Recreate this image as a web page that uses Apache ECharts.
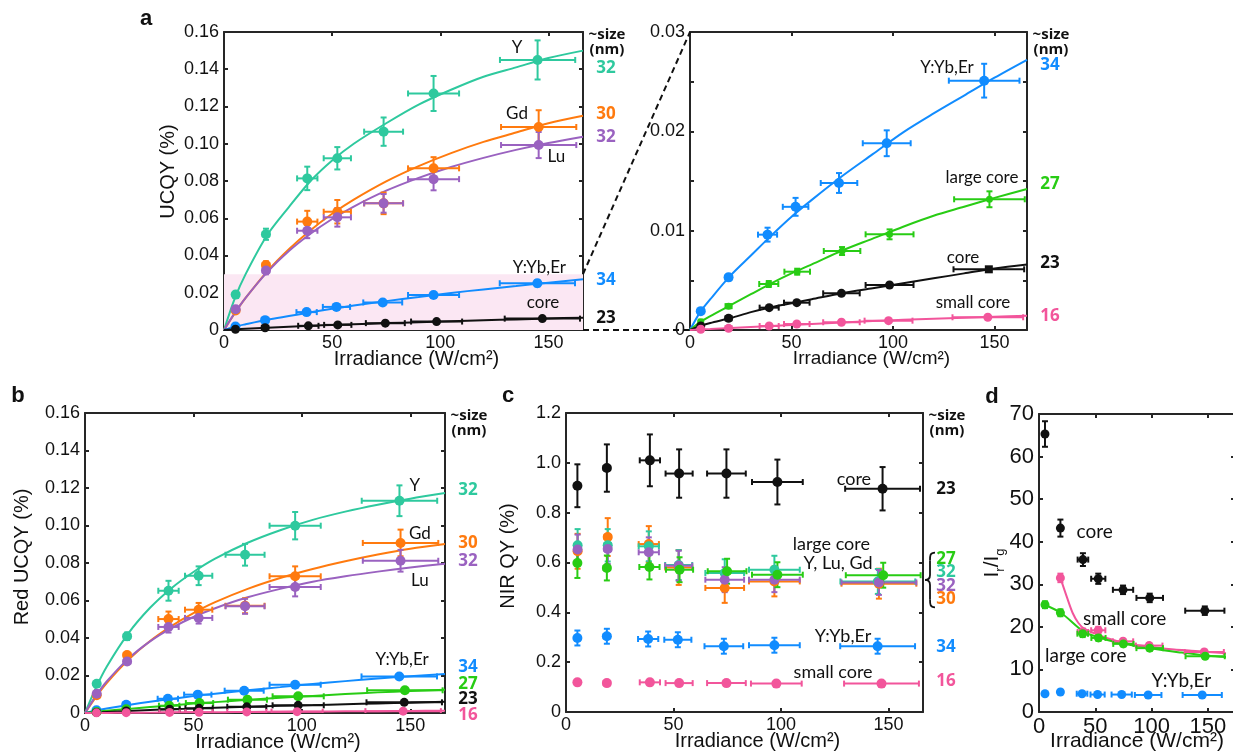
<!DOCTYPE html>
<html>
<head>
<meta charset="utf-8">
<title>UCQY vs irradiance</title>
<script src="https://cdn.jsdelivr.net/npm/echarts@6.0.0/dist/echarts.min.js"></script>
<style>
html,body{margin:0;padding:0;background:#fff;}
#chart{width:1233px;height:755px;}
</style>
</head>
<body>
<div id="chart"></div>
<script>
// ================= DATA =================
// irradiance (W/cm^2) of each measurement, per sample, and its +/- spread
const irrY     = [5.4, 19.4, 38.5, 52.4, 73.8, 96.9, 145.0];
const irrGd    = [5.4, 19.4, 38.5, 52.4, 73.8, 96.9, 145.5];
const irrLu    = [5.4, 19.4, 38.5, 52.4, 73.8, 96.9, 145.5];
const irrYbEr  = [5.3, 19.0, 38.2, 52.0, 73.4, 96.9, 144.9];
const irrLarge = [5.3, 19.0, 38.8, 52.8, 74.9, 98.3, 147.5];
const irrCore  = [5.3, 19.0, 39.0, 52.6, 74.6, 98.3, 147.2];
const irrSmall = [5.3, 19.0, 39.0, 52.6, 74.6, 97.8, 146.7];
const irrErr   = [1.0, 1.5, 4.7, 6.3, 9.0, 11.8, 17.4];

// irradiances at which the fitted curves were read
const fitX = [0, 5, 10, 20, 30, 40, 50, 60, 75, 90, 105, 120, 135, 150, 166];

// ---- a: UCQY (%) ----
const ucqyY        = [0.0190, 0.0514, 0.0814, 0.0922, 0.1065, 0.1270, 0.1450];
const ucqyYErr     = [0.0015, 0.0030, 0.0063, 0.0060, 0.0076, 0.0094, 0.0105];
const ucqyGd       = [0.0105, 0.0349, 0.0582, 0.0635, 0.0680, 0.0868, 0.1090];
const ucqyGdErr    = [0.0010, 0.0020, 0.0058, 0.0063, 0.0058, 0.0060, 0.0090];
const ucqyLu       = [0.0111, 0.0319, 0.0533, 0.0605, 0.0680, 0.0810, 0.0993];
const ucqyLuErr    = [0.0010, 0.0020, 0.0040, 0.0050, 0.0050, 0.0060, 0.0070];
const ucqyYbEr     = [0.0019, 0.0053, 0.0096, 0.0124, 0.0148, 0.0188, 0.0251];
const ucqyYbErErr  = [0.0002, 0.0003, 0.0007, 0.0009, 0.0010, 0.0013, 0.0017];
const ucqyLarge    = [0.00084, 0.0024, 0.00463, 0.00587, 0.00795, 0.00963, 0.01316];
const ucqyLargeErr = [0.0001, 0.0002, 0.0003, 0.0003, 0.0004, 0.0005, 0.0008];
const ucqyCore     = [0.0004, 0.00118, 0.00225, 0.00275, 0.00369, 0.00453, 0.00611];
const ucqyCoreErr  = [0.00005, 0.0001, 0.0001, 0.0001, 0.0001, 0.0002, 0.0002];
const ucqySmall    = [0.00007, 0.00017, 0.0004, 0.0006, 0.00078, 0.00094, 0.00128];
const ucqySmallErr = [0.00002, 0.00003, 0.00004, 0.00005, 0.00005, 0.00006, 0.00008];

const fitUcqyY     = [0, 0.017, 0.030, 0.051, 0.066, 0.080, 0.091, 0.100, 0.111, 0.121, 0.129, 0.136, 0.141, 0.146, 0.150];
const fitUcqyGd    = [0, 0.009, 0.0172, 0.0315, 0.0434, 0.0536, 0.0624, 0.070, 0.0798, 0.088, 0.095, 0.101, 0.106, 0.111, 0.115];
const fitUcqyLu    = [0, 0.0092, 0.0173, 0.0311, 0.0424, 0.0517, 0.0596, 0.0663, 0.0748, 0.0817, 0.0875, 0.0924, 0.0967, 0.1004, 0.1038];
const fitUcqyYbEr  = [0, 0.0018, 0.0031, 0.0055, 0.0075, 0.0095, 0.0114, 0.0131, 0.0155, 0.0177, 0.0199, 0.0218, 0.0236, 0.0254, 0.0272];
const fitUcqyLarge = [0, 0.0008, 0.0014, 0.0025, 0.0036, 0.0047, 0.0057, 0.0066, 0.0080, 0.0092, 0.0104, 0.0115, 0.0124, 0.0133, 0.0142];
const fitUcqyCore  = [0, 0.0004, 0.0007, 0.0012, 0.0018, 0.0023, 0.0027, 0.0031, 0.0037, 0.0042, 0.0047, 0.0052, 0.0057, 0.0062, 0.0066];
const fitUcqySmall = [0, 0.00006, 0.0001, 0.0002, 0.0003, 0.0004, 0.0005, 0.0006, 0.00075, 0.0009, 0.00102, 0.00113, 0.00123, 0.00133, 0.00144];

// ---- b: Red UCQY (%) ----
const redY        = [0.0156, 0.0409, 0.0652, 0.0732, 0.0844, 0.0999, 0.1132];
const redYErr     = [0.0012, 0.0020, 0.0053, 0.0050, 0.0058, 0.0073, 0.0082];
const redGd       = [0.0095, 0.0309, 0.0501, 0.0551, 0.0572, 0.0729, 0.0907];
const redGdErr    = [0.0010, 0.0015, 0.0040, 0.0036, 0.0040, 0.0053, 0.0071];
const redLu       = [0.0103, 0.0275, 0.0459, 0.0507, 0.0569, 0.0672, 0.0812];
const redLuErr    = [0.0010, 0.0015, 0.0030, 0.0030, 0.0040, 0.0050, 0.0058];
const redYbEr     = [0.0015, 0.0044, 0.0076, 0.0098, 0.0119, 0.0151, 0.0195];
const redYbErErr  = [0.0002, 0.0003, 0.0005, 0.0006, 0.0007, 0.0009, 0.0012];
const redLarge    = [0.0005, 0.0020, 0.0039, 0.0053, 0.0071, 0.0089, 0.0121];
const redLargeErr = [0.0001, 0.0002, 0.0003, 0.0003, 0.0004, 0.0005, 0.0007];
const redCore     = [0.0003, 0.0011, 0.0020, 0.0025, 0.0033, 0.0041, 0.0057];
const redCoreErr  = [0.00005, 0.0001, 0.0001, 0.0001, 0.0002, 0.0002, 0.0003];
const redSmall    = [0.0001, 0.0002, 0.0003, 0.0004, 0.0006, 0.0007, 0.0010];
const redSmallErr = [0.00002, 0.00003, 0.00004, 0.00005, 0.00005, 0.00006, 0.00008];

const fitRedY     = [0, 0.0134, 0.0247, 0.0425, 0.0561, 0.0667, 0.0752, 0.0823, 0.0908, 0.0975, 0.1030, 0.1074, 0.1111, 0.1143, 0.1173];
const fitRedGd    = [0, 0.0085, 0.0160, 0.0284, 0.0384, 0.0465, 0.0533, 0.0591, 0.0662, 0.0720, 0.0768, 0.0809, 0.0845, 0.0876, 0.0901];
const fitRedLu    = [0, 0.0091, 0.0168, 0.0290, 0.0382, 0.0454, 0.0512, 0.0559, 0.0617, 0.0662, 0.0700, 0.0729, 0.0754, 0.0776, 0.0796];
const fitRedYbEr  = [0, 0.0013, 0.0024, 0.0043, 0.0060, 0.0075, 0.0090, 0.0103, 0.0121, 0.0138, 0.0155, 0.0170, 0.0184, 0.0196, 0.0208];
const fitRedLarge = [0, 0.0006, 0.0012, 0.0022, 0.0032, 0.0040, 0.0050, 0.0058, 0.0070, 0.0081, 0.0091, 0.0101, 0.0110, 0.0117, 0.0124];
const fitRedCore  = [0, 0.0002, 0.0005, 0.0011, 0.0016, 0.0020, 0.0024, 0.0028, 0.0033, 0.0038, 0.0042, 0.0047, 0.0051, 0.0055, 0.0060];
const fitRedSmall = [0, 0.00003, 0.00006, 0.0001, 0.0002, 0.0003, 0.0004, 0.0004, 0.0006, 0.0007, 0.0008, 0.0009, 0.0010, 0.0011, 0.0012];

// ---- c: NIR QY (%) ----
const nirCore     = [0.908, 0.979, 1.010, 0.957, 0.957, 0.923, 0.896];
const nirCoreErr  = [0.086, 0.095, 0.104, 0.097, 0.097, 0.090, 0.087];
const nirY        = [0.669, 0.669, 0.665, 0.590, 0.558, 0.571, 0.524];
const nirYErr     = [0.065, 0.065, 0.060, 0.060, 0.055, 0.056, 0.050];
const nirGd       = [0.645, 0.702, 0.674, 0.580, 0.498, 0.524, 0.515];
const nirGdErr    = [0.070, 0.076, 0.072, 0.070, 0.060, 0.060, 0.060];
const nirLu       = [0.652, 0.654, 0.641, 0.587, 0.531, 0.531, 0.520];
const nirLuErr    = [0.060, 0.060, 0.060, 0.060, 0.050, 0.050, 0.050];
const nirLarge    = [0.598, 0.578, 0.582, 0.571, 0.565, 0.551, 0.549];
const nirLargeErr = [0.060, 0.050, 0.050, 0.050, 0.050, 0.050, 0.050];
const nirYbEr     = [0.297, 0.304, 0.293, 0.290, 0.264, 0.268, 0.264];
const nirYbErErr  = [0.030, 0.030, 0.030, 0.030, 0.030, 0.030, 0.030];
const nirSmall    = [0.119, 0.116, 0.119, 0.116, 0.116, 0.114, 0.114];
const nirSmallErr = [0.005, 0.005, 0.005, 0.005, 0.005, 0.005, 0.005];

// ---- d: I_r / I_g ----
const ratioCore     = [65.3, 43.2, 35.8, 31.3, 28.7, 26.8, 23.8];
const ratioCoreErr  = [3.0, 2.0, 1.5, 1.2, 1.0, 1.0, 1.0];
const ratioSmall    = [null, 31.5, 18.8, 19.2, 16.6, 15.6, 14.1];
const ratioSmallErr = [0, 1.0, 0.8, 0.8, 0.6, 0.6, 0.5];
const ratioLarge    = [25.2, 23.3, 18.4, 17.4, 16.0, 15.0, 13.1];
const ratioLargeErr = [0.8, 0.8, 0.8, 0.7, 0.6, 0.6, 0.5];
const ratioYbEr     = [4.3, 4.7, 4.3, 4.1, 4.1, 4.0, 4.0];
const ratioYbErErr  = [0.3, 0.3, 0.3, 0.3, 0.3, 0.3, 0.3];
const fitRatioSmallX = [19, 25, 30, 35, 40, 50, 60, 75, 90, 105, 120, 135, 150, 166];
const fitRatioSmall  = [31.5, 26.8, 23.2, 20.9, 19.6, 18.4, 17.4, 16.3, 15.6, 15.1, 14.7, 14.4, 14.1, 13.8];
const fitRatioLargeX = [5, 20, 40, 55, 75, 100, 125, 150, 166];
const fitRatioLarge  = [25.2, 23.2, 18.8, 17.4, 16.0, 14.9, 14.0, 13.2, 12.9];

// tick labels
const xTickLabels = ['0', '50', '100', '150'];

// ================= STYLE / LAYOUT =================
const C = {Y:'#2ec99e', Gd:'#ff7a0e', Lu:'#9a62c0', YbEr:'#118cff', large:'#28cc14', core:'#111111', small:'#f2559b'};
const BAND = '#fbe7f3';
const AX = '#262626';
const FONT = '"Liberation Sans", Arial, sans-serif';
const NOTE_FONT = 'Lato, "Open Sans", sans-serif';
const SIZE_FONT = '"Open Sans", sans-serif';
const XMAX = [166, 166, 166, 166, 174];

const grids = [
  {left:224, top:32,  width:359, height:298},
  {left:690, top:32,  width:337, height:298},
  {left:85,  top:413, width:360, height:300},
  {left:566, top:413, width:357, height:299},
  {left:1039,top:414, width:196, height:298}
].map(g => Object.assign({containLabel:false, outerBoundsMode:'none'}, g));

// ================= HELPERS =================
const zip = (xs, ys) => xs.map((x, i) => [x, ys[i]]).filter(p => p[1] != null);
const zipErr = (xs, ys, exs, eys) => xs.map((x, i) => [x, ys[i], exs[i], eys[i]]).filter(p => p[1] != null);

function errItem(params, api) {
  const x = api.value(0), y = api.value(1), ex = api.value(2), ey = api.value(3);
  const color = api.visual('color');
  const st = {stroke: color, lineWidth: 2};
  const cap = 3;
  const kids = [];
  if (ex > 0) {
    const l = api.coord([x - ex, y]), r = api.coord([x + ex, y]);
    kids.push({type:'line', shape:{x1:l[0], y1:l[1], x2:r[0], y2:r[1]}, style:st});
    kids.push({type:'line', shape:{x1:l[0], y1:l[1]-cap, x2:l[0], y2:l[1]+cap}, style:st});
    kids.push({type:'line', shape:{x1:r[0], y1:r[1]-cap, x2:r[0], y2:r[1]+cap}, style:st});
  }
  if (ey > 0) {
    const t = api.coord([x, y + ey]), b = api.coord([x, y - ey]);
    kids.push({type:'line', shape:{x1:t[0], y1:t[1], x2:b[0], y2:b[1]}, style:st});
    kids.push({type:'line', shape:{x1:t[0]-cap, y1:t[1], x2:t[0]+cap, y2:t[1]}, style:st});
    kids.push({type:'line', shape:{x1:b[0]-cap, y1:b[1], x2:b[0]+cap, y2:b[1]}, style:st});
  }
  return {type:'group', children:kids};
}

function fit(g, xs, ys, color) {
  return {type:'line', xAxisIndex:2*g, yAxisIndex:2*g, data:zip(xs, ys), smooth:0.3,
    showSymbol:false, symbol:'none', lineStyle:{color, width:2}, itemStyle:{color}, silent:true, z:2, clip:true};
}
function err(g, xs, ys, exs, eys, color) {
  return {type:'custom', xAxisIndex:2*g, yAxisIndex:2*g, data:zipErr(xs, ys, exs, eys), renderItem:errItem,
    encode:{x:0, y:1}, itemStyle:{color}, silent:true, z:3, clip:true};
}
function pts(g, xs, ys, color, size, lastSym) {
  const d = zip(xs, ys);
  if (lastSym) d[d.length - 1] = {value:d[d.length - 1], symbol:lastSym, symbolSize:size - 1};
  return {type:'scatter', xAxisIndex:2*g, yAxisIndex:2*g, data:d, symbol:'circle', symbolSize:size,
    itemStyle:{color, opacity:1}, silent:true, z:4};
}
function sample(g, xs, ys, eys, color, size, fitYs, fitXs, lastSym) {
  const out = [];
  if (fitYs) out.push(fit(g, fitXs || fitX, fitYs, color));
  out.push(err(g, xs, ys, irrErr, eys, color));
  out.push(pts(g, xs, ys, color, size, lastSym));
  return out;
}

const baseAxis = {type:'value', min:0, splitLine:{show:false}, nameMoveOverlap:false,
  axisLine:{show:true, onZero:false, lineStyle:{color:AX, width:2}},
  axisTick:{show:true, inside:true, length:4, lineStyle:{color:AX, width:2}}};

function xPair(g, fs, nameFs, gap, shiftRight) {
  const c = Object.assign({}, baseAxis, {gridIndex:g, max:XMAX[g], interval:50});
  return [
    Object.assign({}, c, {position:'bottom',
      axisLabel:{show:true, margin:4, color:'#111', fontSize:fs, fontFamily:FONT, showMaxLabel:false,
        formatter: v => xTickLabels[Math.round(v / 50)] || ''},
      name:'Irradiance (W/cm²)', nameLocation:'middle', nameGap:gap,
      nameTextStyle:{fontSize:nameFs, fontFamily:FONT, color:'#111', padding:[0, 0, 0, 2*shiftRight]}}),
    Object.assign({}, c, {position:'top', axisLabel:{show:false}})
  ];
}
function yPair(g, max, interval, fmt, fs, name, nameFs, gap, shiftUp, rich) {
  const c = Object.assign({}, baseAxis, {gridIndex:g, max, interval});
  const ns = {fontSize:nameFs, fontFamily:FONT, color:'#111', padding:[0, 0, 0, 2*shiftUp]};
  if (rich) ns.rich = rich;
  return [
    Object.assign({}, c, {position:'left',
      axisLabel:{show:true, margin:5, color:'#111', fontSize:fs, fontFamily:FONT, formatter:fmt},
      name, nameLocation:'middle', nameGap:gap, nameTextStyle:ns}),
    Object.assign({}, c, {position:'right', axisLabel:{show:false}})
  ];
}
const fmt2 = v => v === 0 ? '0' : v.toFixed(2);
const fmtA = v => { const k = v / 0.01; return Math.abs(k - Math.round(k)) < 1e-6 ? (v === 0 ? '0' : v.toFixed(2)) : ''; };
const fmt1 = v => v === 0 ? '0' : v.toFixed(1);
const fmt0 = v => String(Math.round(v));

const xAxes = [].concat(
  xPair(0, 18, 20, 19, 13),
  xPair(1, 18, 19, 19, 13),
  xPair(2, 18, 20, 19, 13),
  xPair(3, 18, 20, 19, 13),
  xPair(4, 22, 21, 19, 0)
);
const yAxes = [].concat(
  yPair(0, 0.16, 0.02, fmt2, 18, 'UCQY (%)', 20, 46, 9.5),
  yPair(1, 0.03, 0.005, fmtA, 18, '', 20, 40, 0),
  yPair(2, 0.16, 0.02, fmt2, 18, 'Red UCQY (%)', 20, 53, 6),
  yPair(3, 1.2, 0.2, fmt1, 18, 'NIR QY (%)', 20, 48, 6.5),
  yPair(4, 70, 10, fmt0, 22, '{m|I}{s|r}{m|/I}{s|g}', 21, 32, 0, {
    m:{fontSize:21, fontFamily:FONT, color:'#111', lineHeight:30, verticalAlign:'middle'},
    s:{fontSize:13, fontFamily:FONT, color:'#111', lineHeight:30, verticalAlign:'bottom'}
  })
);

// ================= SERIES =================
const series = [];
// pink highlight band in a (left) = range of the zoomed panel
series.push({type:'line', xAxisIndex:0, yAxisIndex:0, data:[[0, 0]], symbol:'none', lineStyle:{width:0, opacity:0},
  silent:true, z:-1,
  markArea:{silent:true, itemStyle:{color:BAND}, data:[[{xAxis:0, yAxis:0}, {xAxis:XMAX[0], yAxis:0.03}]]}});
// a-left
series.push(...sample(0, irrY, ucqyY, ucqyYErr, C.Y, 10, fitUcqyY));
series.push(...sample(0, irrGd, ucqyGd, ucqyGdErr, C.Gd, 10, fitUcqyGd));
series.push(...sample(0, irrLu, ucqyLu, ucqyLuErr, C.Lu, 10, fitUcqyLu));
series.push(...sample(0, irrYbEr, ucqyYbEr, ucqyYbErErr, C.YbEr, 10, fitUcqyYbEr));
series.push(...sample(0, irrCore, ucqyCore, ucqyCoreErr, C.core, 9, fitUcqyCore));
// a-right (zoom)
series.push(...sample(1, irrYbEr, ucqyYbEr, ucqyYbErErr, C.YbEr, 10, fitUcqyYbEr));
series.push(...sample(1, irrLarge, ucqyLarge, ucqyLargeErr, C.large, 7, fitUcqyLarge));
series.push(...sample(1, irrCore, ucqyCore, ucqyCoreErr, C.core, 9, fitUcqyCore, null, 'rect'));
series.push(...sample(1, irrSmall, ucqySmall, ucqySmallErr, C.small, 9, fitUcqySmall));
// b
series.push(...sample(2, irrY, redY, redYErr, C.Y, 10, fitRedY));
series.push(...sample(2, irrGd, redGd, redGdErr, C.Gd, 10, fitRedGd));
series.push(...sample(2, irrLu, redLu, redLuErr, C.Lu, 10, fitRedLu));
series.push(...sample(2, irrYbEr, redYbEr, redYbErErr, C.YbEr, 10, fitRedYbEr));
series.push(...sample(2, irrLarge, redLarge, redLargeErr, C.large, 10, fitRedLarge));
series.push(...sample(2, irrCore, redCore, redCoreErr, C.core, 9, fitRedCore));
series.push(...sample(2, irrSmall, redSmall, redSmallErr, C.small, 9, fitRedSmall));
// c
series.push(...sample(3, irrGd, nirGd, nirGdErr, C.Gd, 10));
series.push(...sample(3, irrY, nirY, nirYErr, C.Y, 10));
series.push(...sample(3, irrLu, nirLu, nirLuErr, C.Lu, 10));
series.push(...sample(3, irrLarge, nirLarge, nirLargeErr, C.large, 10));
series.push(...sample(3, irrYbEr, nirYbEr, nirYbErErr, C.YbEr, 10));
series.push(...sample(3, irrSmall, nirSmall, nirSmallErr, C.small, 10));
series.push(...sample(3, irrCore, nirCore, nirCoreErr, C.core, 10));
// d
series.push(...sample(4, irrCore, ratioCore, ratioCoreErr, C.core, 9));
series.push(...sample(4, irrSmall, ratioSmall, ratioSmallErr, C.small, 9, fitRatioSmall, fitRatioSmallX));
series.push(...sample(4, irrLarge, ratioLarge, ratioLargeErr, C.large, 9, fitRatioLarge, fitRatioLargeX));
series.push(...sample(4, irrYbEr, ratioYbEr, ratioYbErErr, C.YbEr, 9));

const option = {
  animation:false,
  backgroundColor:'#ffffff',
  grid:grids,
  xAxis:xAxes,
  yAxis:yAxes,
  series
};

const chart = echarts.init(document.getElementById('chart'), null, {renderer:'canvas', width:1233, height:755});
chart.setOption(option);

// ================= ANNOTATIONS (placed in data space) =================
const notes = [
  [0, 135.5, 0.1516, 'Y'], [0, 135.5, 0.1165, 'Gd'], [0, 153.7, 0.0929, 'Lu'],
  [0, 145.8, 0.0338, 'Y:Yb,Er'], [0, 147.5, 0.0145, 'core'],
  [1, 126.6, 0.02638, 'Y:Yb,Er'], [1, 143.8, 0.0154, 'large core'], [1, 134.5, 0.00725, 'core'], [1, 139.4, 0.00272, 'small core'],
  [2, 152.1, 0.1212, 'Y'], [2, 154.4, 0.0956, 'Gd'], [2, 154.4, 0.0706, 'Lu'], [2, 146.2, 0.0284, 'Y:Yb,Er'],
  [3, 133.9, 0.936, 'core'], [3, 123.4, 0.672, 'large core'], [3, 126.5, 0.599, 'Y, Lu, Gd'],
  [3, 128.8, 0.306, 'Y:Yb,Er'], [3, 124.2, 0.158, 'small core'],
  [4, 49.4, 42.3, 'core'], [4, 76.1, 21.8, 'small core'], [4, 41.5, 13.3, 'large core'], [4, 126.4, 7.2, 'Y:Yb,Er']
];
const noteSize = [17, 17, 17, 18, 19];
const sizeLabels = [
  [0, '32', 'Y', 0.1407], [0, '30', 'Gd', 0.116], [0, '32', 'Lu', 0.1036], [0, '34', 'YbEr', 0.0268], [0, '23', 'core', 0.0064],
  [1, '34', 'YbEr', 0.02668], [1, '27', 'large', 0.0147], [1, '23', 'core', 0.00675], [1, '16', 'small', 0.00141],
  [2, '32', 'Y', 0.1191], [2, '30', 'Gd', 0.0908], [2, '32', 'Lu', 0.0812], [2, '34', 'YbEr', 0.0242],
  [2, '27', 'large', 0.0156], [2, '23', 'core', 0.0076], [2, '16', 'small', -0.0009],
  [3, '23', 'core', 0.896], [3, '27', 'large', 0.615], [3, '32', 'Y', 0.563], [3, '32', 'Lu', 0.507],
  [3, '30', 'Gd', 0.451], [3, '34', 'YbEr', 0.262], [3, '16', 'small', 0.122]
];

const P = (g, x, y) => chart.convertToPixel({xAxisIndex:2*g, yAxisIndex:2*g}, [x, y]);
function txt(x, y, text, st) {
  return {type:'text', x, y, silent:true, z:100,
    style:Object.assign({text, fill:'#111', fontSize:17, fontFamily:NOTE_FONT, align:'center', verticalAlign:'middle'}, st || {})};
}
const gfx = [];
notes.forEach(n => { const p = P(n[0], n[1], n[2]); gfx.push(txt(p[0], p[1], n[3], {fontSize:noteSize[n[0]]})); });
sizeLabels.forEach(s => {
  const p = P(s[0], XMAX[s[0]], s[3]);
  gfx.push(txt(p[0] + 23, p[1], s[1], {fill:C[s[2]], fontFamily:SIZE_FONT, fontWeight:'bold', fontSize:17}));
});
[0, 1, 2, 3].forEach(g => {
  const p = P(g, XMAX[g], 0);
  const top = grids[g].top;
  gfx.push(txt(p[0] + 24, top + 3, '~size', {fontFamily:SIZE_FONT, fontWeight:'bold', fontSize:15}));
  gfx.push(txt(p[0] + 24, top + 18, '(nm)', {fontFamily:SIZE_FONT, fontWeight:'bold', fontSize:15}));
});
// panel letters
[['a', 146, 19], ['b', 18, 396], ['c', 508, 396], ['d', 992, 397]].forEach(l =>
  gfx.push(txt(l[1], l[2], l[0], {fontFamily:FONT, fontWeight:'bold', fontSize:22})));
// dashed zoom connectors a-left -> a-right
const c1 = P(0, XMAX[0], 0.03), c2 = P(1, 0, 0.03), c3 = P(0, XMAX[0], 0), c4 = P(1, 0, 0);
[[c1, c2], [c3, c4]].forEach(s => gfx.push({type:'line', silent:true, z:90,
  shape:{x1:s[0][0], y1:s[0][1], x2:s[1][0], y2:s[1][1]},
  style:{stroke:'#111', lineWidth:2, lineDash:[6, 4]}}));
// brace grouping the Y/Lu/Gd/large core sizes in c
const bTop = P(3, XMAX[3], 0.64), bBot = P(3, XMAX[3], 0.42);
const bh = bBot[1] - bTop[1], bm = bh / 2;
const bst = {stroke:'#111', lineWidth:1.8, fill:null};
gfx.push({type:'group', silent:true, z:95, x:bTop[0] + 2, y:bTop[1], children:[
  {type:'bezierCurve', shape:{x1:10, y1:0, cpx1:5, cpy1:0, cpx2:5, cpy2:3, x2:5, y2:8}, style:bst},
  {type:'line', shape:{x1:5, y1:8, x2:5, y2:bm - 5}, style:bst},
  {type:'bezierCurve', shape:{x1:5, y1:bm - 5, cpx1:5, cpy1:bm - 1, cpx2:3, cpy2:bm, x2:0, y2:bm}, style:bst},
  {type:'bezierCurve', shape:{x1:0, y1:bm, cpx1:3, cpy1:bm, cpx2:5, cpy2:bm + 1, x2:5, y2:bm + 5}, style:bst},
  {type:'line', shape:{x1:5, y1:bm + 5, x2:5, y2:bh - 8}, style:bst},
  {type:'bezierCurve', shape:{x1:5, y1:bh - 8, cpx1:5, cpy1:bh - 3, cpx2:5, cpy2:bh, x2:10, y2:bh}, style:bst}
]});

chart.setOption({graphic:gfx});
</script>
</body>
</html>
